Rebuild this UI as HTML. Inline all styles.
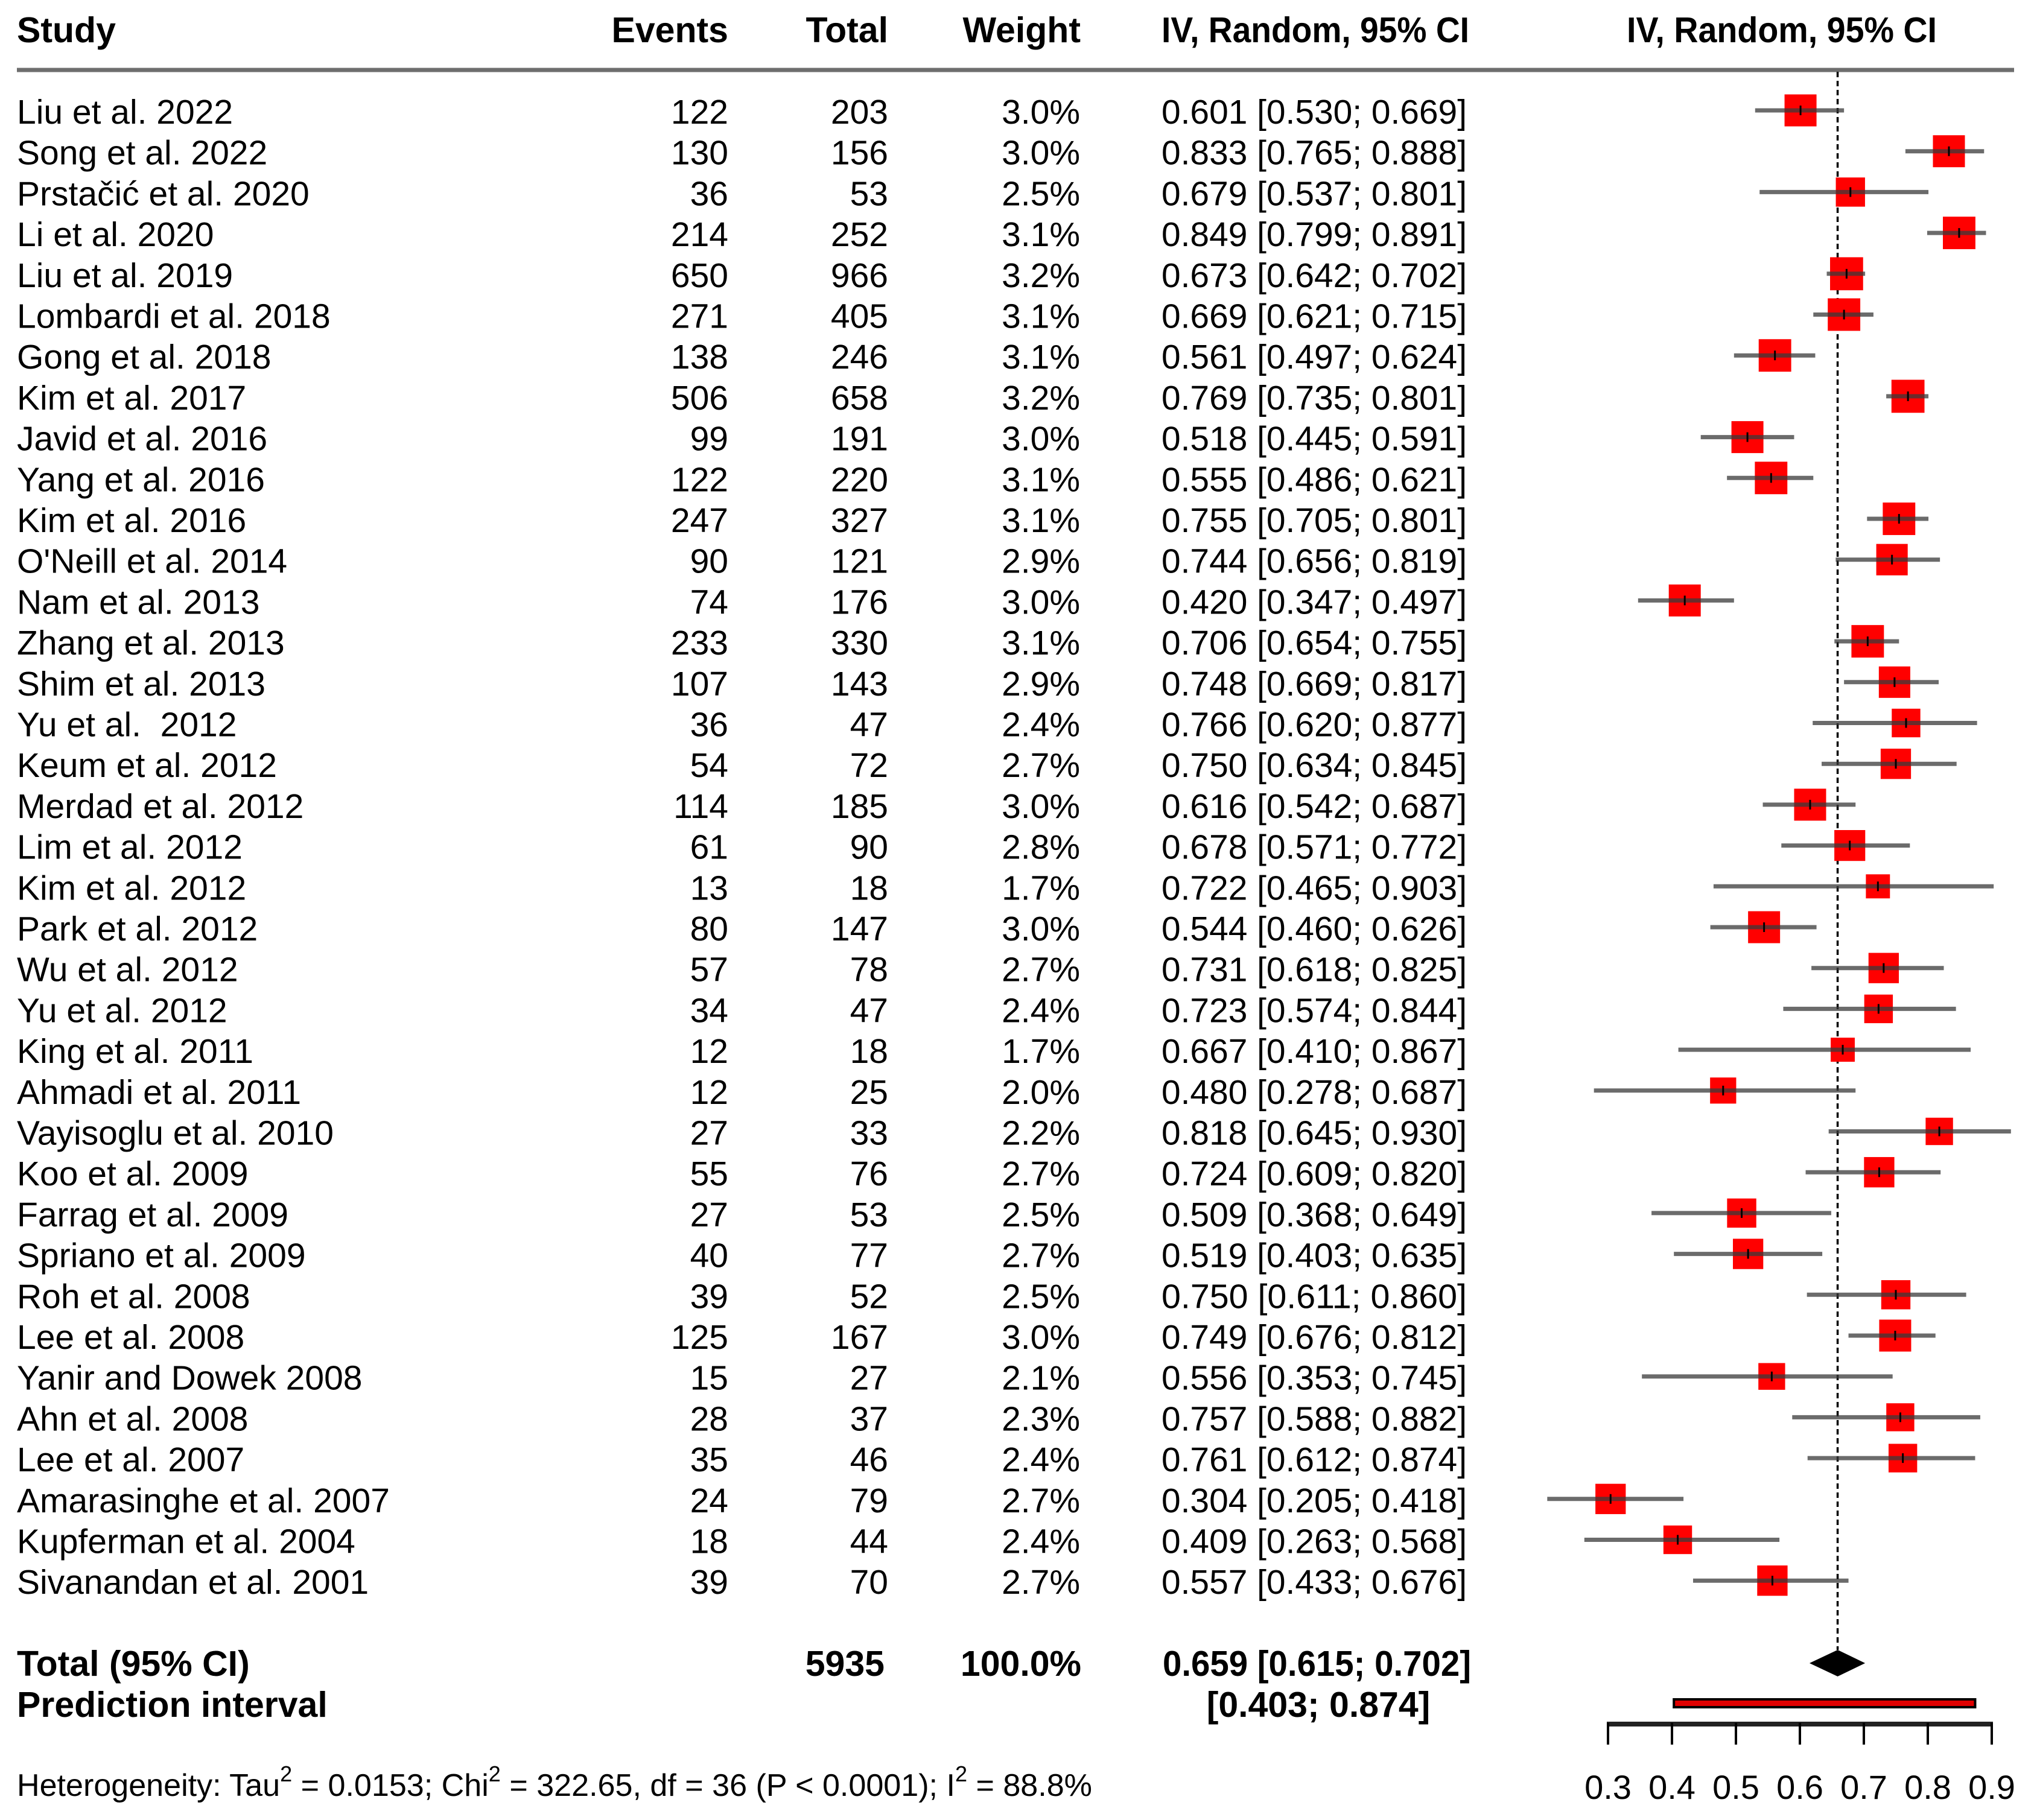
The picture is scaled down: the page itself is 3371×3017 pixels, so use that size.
<!DOCTYPE html>
<html><head><meta charset="utf-8">
<style>
html,body{margin:0;padding:0;background:#fff;}
svg{display:block;}
text{font-family:"Liberation Sans",Arial,sans-serif;fill:#000;}
.b{font-weight:bold;}
</style></head>
<body>
<svg id="plot" width="3371" height="3017" viewBox="0 0 3371 3017" xmlns="http://www.w3.org/2000/svg">
<rect width="3371" height="3017" fill="#fff"/>
<g id="hdr" font-size="59" class="b">
<text x="28" y="70" font-weight="bold">Study</text>
<text x="1207" y="70" text-anchor="end" font-weight="bold">Events</text>
<text x="1472" y="70" text-anchor="end" font-weight="bold">Total</text>
<text x="1791" y="70" text-anchor="end" font-weight="bold">Weight</text>
<text x="1925" y="70" font-weight="bold" textLength="510" lengthAdjust="spacingAndGlyphs">IV, Random, 95% CI</text>
<text x="2696" y="70" font-weight="bold" textLength="514" lengthAdjust="spacingAndGlyphs">IV, Random, 95% CI</text>
</g>
<line x1="28" y1="116" x2="3338" y2="116" stroke="#6e6e6e" stroke-width="7"/>
<g id="rows"></g>
<g id="marks"></g>
<g id="summary"></g>
</svg>
<script>
const studies = ["Liu et al. 2022","Song et al. 2022","Prstačić et al. 2020","Li et al. 2020","Liu et al. 2019","Lombardi et al. 2018","Gong et al. 2018","Kim et al. 2017","Javid et al. 2016","Yang et al. 2016","Kim et al. 2016","O'Neill et al. 2014","Nam et al. 2013","Zhang et al. 2013","Shim et al. 2013","Yu et al.\u00a0 2012","Keum et al. 2012","Merdad et al. 2012","Lim et al. 2012","Kim et al. 2012","Park et al. 2012","Wu et al. 2012","Yu et al. 2012","King et al. 2011","Ahmadi et al. 2011","Vayisoglu et al. 2010","Koo et al. 2009","Farrag et al. 2009","Spriano et al. 2009","Roh et al. 2008","Lee et al. 2008","Yanir and Dowek 2008","Ahn et al. 2008","Lee et al. 2007","Amarasinghe et al. 2007","Kupferman et al. 2004","Sivanandan et al. 2001"];
const events = [122,130,36,214,650,271,138,506,99,122,247,90,74,233,107,36,54,114,61,13,80,57,34,12,12,27,55,27,40,39,125,15,28,35,24,18,39];
const totals = [203,156,53,252,966,405,246,658,191,220,327,121,176,330,143,47,72,185,90,18,147,78,47,18,25,33,76,53,77,52,167,27,37,46,79,44,70];
const weights = [3.0,3.0,2.5,3.1,3.2,3.1,3.1,3.2,3.0,3.1,3.1,2.9,3.0,3.1,2.9,2.4,2.7,3.0,2.8,1.7,3.0,2.7,2.4,1.7,2.0,2.2,2.7,2.5,2.7,2.5,3.0,2.1,2.3,2.4,2.7,2.4,2.7];
const est = [0.601,0.833,0.679,0.849,0.673,0.669,0.561,0.769,0.518,0.555,0.755,0.744,0.420,0.706,0.748,0.766,0.750,0.616,0.678,0.722,0.544,0.731,0.723,0.667,0.480,0.818,0.724,0.509,0.519,0.750,0.749,0.556,0.757,0.761,0.304,0.409,0.557];
const lower = [0.530,0.765,0.537,0.799,0.642,0.621,0.497,0.735,0.445,0.486,0.705,0.656,0.347,0.654,0.669,0.620,0.634,0.542,0.571,0.465,0.460,0.618,0.574,0.410,0.278,0.645,0.609,0.368,0.403,0.611,0.676,0.353,0.588,0.612,0.205,0.263,0.433];
const upper = [0.669,0.888,0.801,0.891,0.702,0.715,0.624,0.801,0.591,0.621,0.801,0.819,0.497,0.755,0.817,0.877,0.845,0.687,0.772,0.903,0.626,0.825,0.844,0.867,0.687,0.930,0.820,0.649,0.635,0.860,0.812,0.745,0.882,0.874,0.418,0.568,0.676];
const pooled = [0.659,0.615,0.702];
const predInt = [0.403,0.874];
const ticks = [0.3,0.4,0.5,0.6,0.7,0.8,0.9];
const NS="http://www.w3.org/2000/svg";
function xs(v){return 2665+(v-0.3)*1060;}
function ys(i){return 205+i*67.7;}
function mk(tag,attrs,parent,txt){const e=document.createElementNS(NS,tag);for(const k in attrs)e.setAttribute(k,attrs[k]);if(txt!==undefined)e.textContent=txt;parent.appendChild(e);return e;}
const rows=document.getElementById('rows'), marks=document.getElementById('marks'), summ=document.getElementById('summary');
function f3(v){return v.toFixed(3);}
const dl=mk('line',{x1:xs(pooled[0]),y1:119,x2:xs(pooled[0]),y2:2735,stroke:'#000','stroke-width':3.5,'stroke-dasharray':'9 6'},marks);


for(let i=0;i<studies.length;i++){
  const y=ys(i);
  const g=mk('g',{'font-size':57},rows);
  
  
  const t1=mk('text',{x:28,y:y},g,studies[i]);
  
  
  const t2=mk('text',{x:1207,y:y,'text-anchor':'end'},g,String(events[i]));
  
  
  const t3=mk('text',{x:1472,y:y,'text-anchor':'end'},g,String(totals[i]));
  
  
  const t4=mk('text',{x:1790,y:y,'text-anchor':'end'},g,weights[i].toFixed(1)+'%');
  
  
  const t5=mk('text',{x:1925,y:y,textLength:506,lengthAdjust:'spacingAndGlyphs'},g,f3(est[i])+' ['+f3(lower[i])+'; '+f3(upper[i])+']');
  
  
  const cy=y-22;
  const s=53*Math.sqrt(weights[i]/3.0);
  const sq=mk('rect',{x:xs(est[i])-s/2,y:cy-s/2,width:s,height:s,fill:'#ff0000'},marks);
  
  
  const ln=mk('line',{x1:xs(lower[i]),y1:cy,x2:xs(upper[i]),y2:cy,stroke:'#3a3a3a','stroke-width':7,'stroke-opacity':0.75},marks);
  
  
  const tk=mk('line',{x1:xs(est[i]),y1:cy-8,x2:xs(est[i]),y2:cy+8,stroke:'#000','stroke-width':3},marks);
  
  
}
const ty=2778, py=2846;
const sg=mk('g',{'font-size':59,'font-weight':'bold'},summ);


let e;
e=mk('text',{x:28,y:ty,'font-weight':'bold'},sg,'Total (95% CI)');


e=mk('text',{x:1466,y:ty,'text-anchor':'end','font-weight':'bold'},sg,String(totals.reduce((a,b)=>a+b,0)));


e=mk('text',{x:1792,y:ty,'text-anchor':'end','font-weight':'bold'},sg,'100.0%');


e=mk('text',{x:1927,y:ty,'font-weight':'bold',textLength:511,lengthAdjust:'spacingAndGlyphs'},sg,f3(pooled[0])+' ['+f3(pooled[1])+'; '+f3(pooled[2])+']');


e=mk('text',{x:28,y:py,'font-weight':'bold'},sg,'Prediction interval');


e=mk('text',{x:2185,y:py,'text-anchor':'middle','font-weight':'bold'},sg,'['+f3(predInt[0])+'; '+f3(predInt[1])+']');


const dcy=2757;
e=mk('polygon',{points:`${xs(pooled[1])},${dcy} ${xs(pooled[0])},${dcy-22} ${xs(pooled[2])},${dcy} ${xs(pooled[0])},${dcy+22}`,fill:'#000'},summ);


e=mk('rect',{x:xs(predInt[0]),y:2817,width:xs(predInt[1])-xs(predInt[0]),height:13,fill:'#e00000',stroke:'#000','stroke-width':4},summ);


e=mk('line',{x1:xs(ticks[0])-2,y1:2858,x2:xs(ticks[ticks.length-1])+2,y2:2858,stroke:'#222','stroke-width':8},summ);


for(const t of ticks){
  const tl=mk('line',{x1:xs(t),y1:2856,x2:xs(t),y2:2892,stroke:'#000','stroke-width':4},summ);
  
  
  const tt=mk('text',{x:xs(t),y:2982,'text-anchor':'middle','font-size':56},summ,t.toFixed(1));
  
  
}
</script>
<div style="position:absolute;left:0;top:0;width:3371px;height:3017px;pointer-events:none;">
<svg width="3371" height="3017" style="position:absolute;left:0;top:0">
<text x="28" y="2977" font-size="52" textLength="1782" lengthAdjust="spacingAndGlyphs" style="font-family:'Liberation Sans',Arial,sans-serif">Heterogeneity: Tau<tspan dy="-24" font-size="36">2</tspan><tspan dy="24"> = 0.0153; Chi</tspan><tspan dy="-24" font-size="36">2</tspan><tspan dy="24"> = 322.65, df = 36 (P &lt; 0.0001); I</tspan><tspan dy="-24" font-size="36">2</tspan><tspan dy="24"> = 88.8%</tspan></text>
</svg>
</div>
</body></html>
